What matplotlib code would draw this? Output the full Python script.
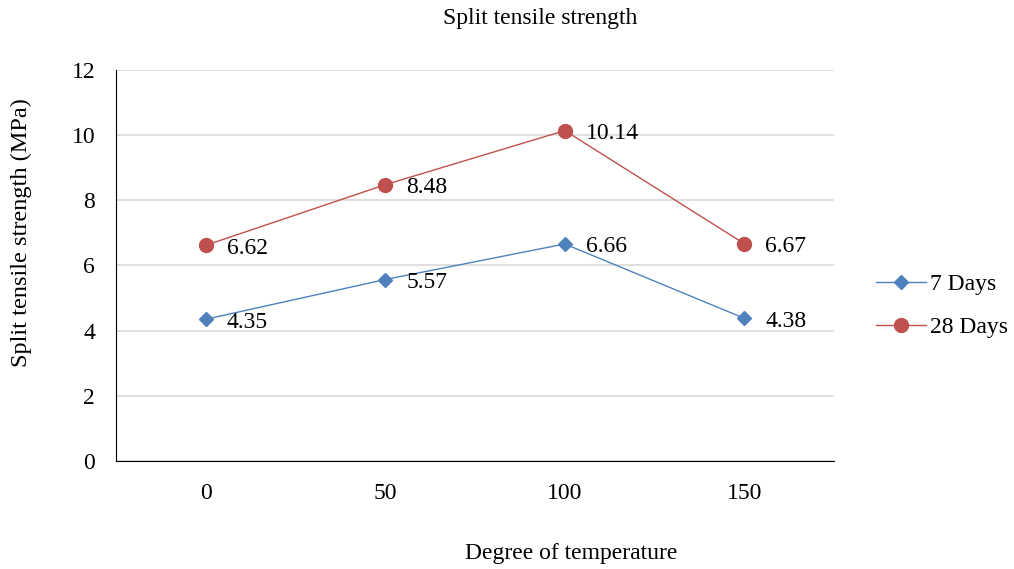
import matplotlib
matplotlib.use("Agg")
import matplotlib.pyplot as plt

plt.rcParams['font.family'] = ['Liberation Serif', 'DejaVu Serif']

categories = ["0", "50", "100", "150"]
days7 = [4.35, 5.57, 6.66, 4.38]
days28 = [6.62, 8.48, 10.14, 6.67]
yticks = [0, 2, 4, 6, 8, 10, 12]

fig = plt.figure(figsize=(10.14, 5.69), dpi=100)
ax = fig.add_axes([0.1144, 0.1898, 0.7081, 0.6872])

x = list(range(len(categories)))
ax.plot(x, days7, color='#4F81BD', lw=1.0, marker='D', ms=7, label='7 Days', zorder=3)
ax.plot(x, days28, color='#C0504D', lw=1.0, marker='o', ms=10, label='28 Days', zorder=3)

for xi, v in zip(x, days7):
    ax.annotate(f"{v:.2f}", (xi, v), xytext=(15, -2), textcoords='offset points',
                ha='left', va='center', fontsize=17)
for xi, v in zip(x, days28):
    ax.annotate(f"{v:.2f}", (xi, v), xytext=(15, -2), textcoords='offset points',
                ha='left', va='center', fontsize=17)

ax.set_xlim(-0.5, 3.5)
ax.set_ylim(0, 12)
ax.set_yticks(yticks)
ax.set_xticks(x)
ax.set_xticklabels(categories)
ax.tick_params(axis='both', length=0, labelsize=17)
ax.tick_params(axis='x', pad=16)
ax.tick_params(axis='y', pad=15)
ax.grid(axis='y', color='#D9D9D9', lw=1.2)
ax.set_axisbelow(True)
for s in ['top', 'right']:
    ax.spines[s].set_visible(False)
ax.spines['left'].set_color('black')
ax.spines['bottom'].set_color('black')

fig.text(0.533, 0.968, "Split tensile strength", ha='center', va='center', fontsize=17)
fig.text(0.563, 0.027, "Degree of temperature", ha='center', va='center', fontsize=17)
fig.text(0.021, 0.592, "Split tensile strength (MPa)", ha='center', va='center', rotation=90, fontsize=17.5)

fig.legend(loc='center left', bbox_to_anchor=(0.843, 0.462), frameon=False, fontsize=17,
           handlelength=2.1, labelspacing=0.9, handletextpad=0.2)

fig.savefig("out.png", dpi=100)
